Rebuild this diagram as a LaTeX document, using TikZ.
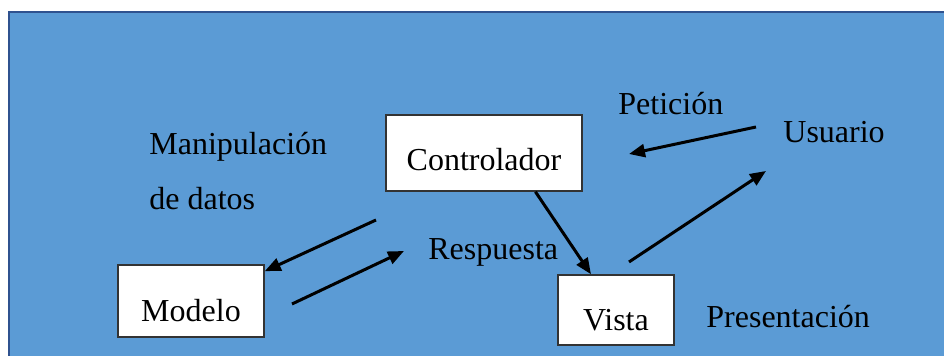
\documentclass[tikz,border=0pt]{standalone}
\usepackage{fontspec}
\setmainfont{Liberation Serif}
\usepackage{tikz}
\usetikzlibrary{arrows.meta}
\definecolor{panelblue}{RGB}{91,155,213}
\definecolor{panelline}{RGB}{47,82,143}

\begin{document}
\begin{tikzpicture}[
  x=0.5pt, y=-0.5pt,
  >={Triangle[length=8pt, width=6.5pt]},
  every node/.style={font=\fontsize{16}{19}\selectfont},
  box/.style={draw=black!80, fill=white, line width=0.75pt, inner sep=0pt, text depth=0pt},
  tag/.style={inner sep=0pt, anchor=base west},
  link/.style={->, line width=1.5pt}
]

% --- Background panel ---
\useasboundingbox (0,0) rectangle (944,356);
\filldraw[fill=panelblue, draw=panelline, line width=1pt] (9,12) rectangle (950,362);

% --- Components ---
\node[box, minimum width=73pt, minimum height=36pt, text height=21pt]
  (modelo) at (191,301) {Modelo};
\node[box, minimum width=98pt, minimum height=38pt, text height=18pt]
  (ctrl) at (484,153) {Controlador};
\node[box, minimum width=58pt, minimum height=35pt, text height=21pt]
  (vista) at (616,310) {Vista};

% --- Labels ---
\node[tag] (manip) at (149,155) {Manipulación};
\node[tag] (datos) at (149,210) {de datos};
\node[tag] (resp) at (428,260) {Respuesta};
\node[tag] (pet) at (618,115) {Petición};
\node[tag] (usuario) at (783,143) {Usuario};
\node[tag] (pres) at (706,328) {Presentación};

% --- Free ends of the arrows ---
\coordinate (manipfrom) at (376,220);
\coordinate (respfrom) at (292,304);
\coordinate (respto) at (404,251);
\coordinate (presfrom) at (629,262);
\coordinate (presto) at (766,171);
\coordinate (petfrom) at (756,127);
\coordinate (petto) at (629,154);

% --- Arrows ---
\draw[link] (manipfrom) -- (modelo.22);
\draw[link] (respfrom) -- (respto);
\draw[link] (ctrl.-37) -- (vista.125);
\draw[link] (presfrom) -- (presto);
\draw[link] (petfrom) -- (petto);

\end{tikzpicture}
\end{document}
